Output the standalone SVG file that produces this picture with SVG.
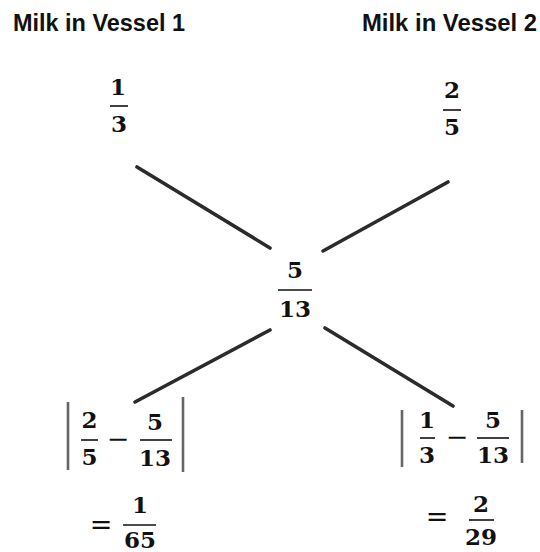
<svg xmlns="http://www.w3.org/2000/svg" width="540" height="552" viewBox="0 0 540 552">
<style>
.title{font-family:"Liberation Sans",Arial,sans-serif;font-weight:bold;font-size:23px;fill:#111}
.num{font-family:"DejaVu Serif",serif;font-weight:bold;font-size:23px;fill:#111;text-anchor:middle}
.op{font-family:"DejaVu Serif",serif;font-size:27px;fill:#111;text-anchor:middle}
.bar{stroke:#111;stroke-width:1.6}
.abs{stroke:#666;stroke-width:2.6}
.conn{stroke:#2b2b2b;stroke-width:3.6;stroke-linecap:round}
</style>
<rect width="540" height="552" fill="#fff"/>
<g id="title1"><text class="title" x="13" y="31" textLength="172" lengthAdjust="spacingAndGlyphs">Milk in Vessel 1</text></g>
<g id="title2"><text class="title" x="362" y="31" textLength="175" lengthAdjust="spacingAndGlyphs">Milk in Vessel 2</text></g>
<g id="connectors">
<line class="conn" x1="137" y1="167" x2="270" y2="248"/>
<line class="conn" x1="448" y1="182" x2="323" y2="251"/>
<line class="conn" x1="270" y1="330" x2="135" y2="402"/>
<line class="conn" x1="325" y1="328" x2="453" y2="406"/>
</g>
<g id="v1">
<text class="num" x="118" y="95">1</text>
<line class="bar" x1="110" y1="106" x2="128" y2="106"/>
<text class="num" x="119" y="132">3</text>
</g>
<g id="v2">
<text class="num" x="452" y="98">2</text>
<line class="bar" x1="443" y1="110" x2="461" y2="110"/>
<text class="num" x="452" y="135">5</text>
</g>
<g id="mix">
<text class="num" x="295" y="278">5</text>
<line class="bar" x1="278" y1="290" x2="312" y2="290"/>
<text class="num" x="295" y="317">13</text>
</g>
<g id="r1">
<line class="abs" x1="68" y1="402" x2="68" y2="470"/>
<line class="abs" x1="183" y1="397" x2="183" y2="472"/>
<text class="num" x="89.5" y="428">2</text>
<line class="bar" x1="81" y1="440" x2="98" y2="440"/>
<text class="num" x="89.5" y="465">5</text>
<text class="op" x="118" y="448">−</text>
<text class="num" x="155" y="430">5</text>
<line class="bar" x1="140" y1="440" x2="172" y2="440"/>
<text class="num" x="155" y="466">13</text>
<text class="op" x="101" y="533.5">=</text>
<text class="num" x="140" y="513">1</text>
<line class="bar" x1="123" y1="525" x2="156" y2="525"/>
<text class="num" x="140" y="548">65</text>
</g>
<g id="r2">
<line class="abs" x1="402" y1="410" x2="402" y2="467"/>
<line class="abs" x1="522" y1="410" x2="522" y2="463"/>
<text class="num" x="427" y="428">1</text>
<line class="bar" x1="420" y1="438" x2="435" y2="438"/>
<text class="num" x="427" y="463">3</text>
<text class="op" x="457" y="446">−</text>
<text class="num" x="493" y="428">5</text>
<line class="bar" x1="477" y1="438" x2="509" y2="438"/>
<text class="num" x="493" y="463">13</text>
<text class="op" x="437" y="525.5">=</text>
<text class="num" x="481" y="511.5">2</text>
<line class="bar" x1="469" y1="520" x2="494" y2="520"/>
<text class="num" x="481" y="545">29</text>
</g>
</svg>
